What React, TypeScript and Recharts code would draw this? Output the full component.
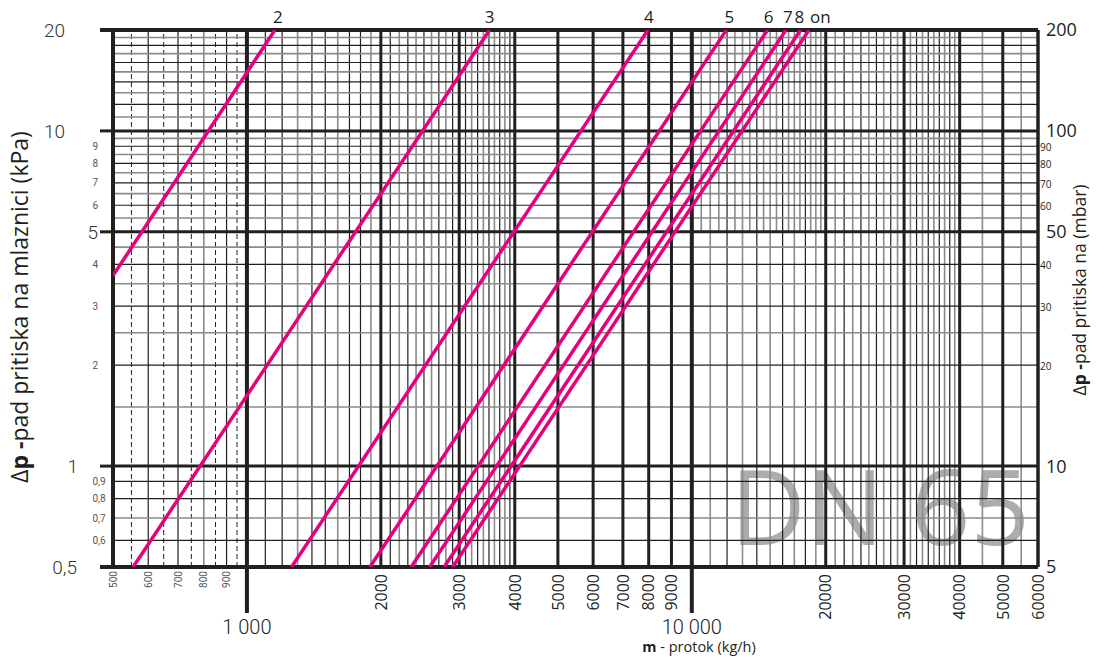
import React from 'react';
import { LineChart, Line, XAxis, YAxis, ReferenceLine, LabelList } from 'recharts';

// ---- data: nozzle curves (flow kg/h, pressure drop kPa) ----
const seriesNames = ['2', '3', '4', '5', '6', '7', '8', 'on'];
const lowFlow = [500, 555, 1260, 1890, 2340, 2575, 2775, 2900];
const lowDrop = [3.7, 0.5, 0.5, 0.5, 0.5, 0.5, 0.5, 0.5];
const highFlow = [1156, 3510, 7970, 11960, 14800, 16280, 17550, 18340];
const highDrop = [20, 20, 20, 20, 20, 20, 20, 20];

// ---- axis ticks ----
const xTicks = [500, 600, 700, 800, 900, 1000, 2000, 3000, 4000, 5000, 6000, 7000, 8000, 9000, 10000, 20000, 30000, 40000, 50000, 60000];
const xTickLabels = ['500', '600', '700', '800', '900', '1 000', '2000', '3000', '4000', '5000', '6000', '7000', '8000', '9000', '10 000', '20000', '30000', '40000', '50000', '60000'];
const yLeftTicks = [0.5, 0.6, 0.7, 0.8, 0.9, 1, 2, 3, 4, 5, 6, 7, 8, 9, 10, 20];
const yLeftLabels = ['0,5', '0,6', '0,7', '0,8', '0,9', '1', '2', '3', '4', '5', '6', '7', '8', '9', '10', '20'];
const yRightTicks = [0.5, 1, 2, 3, 4, 5, 6, 7, 8, 9, 10, 20];
const yRightLabels = ['5', '10', '20', '30', '40', '50', '60', '70', '80', '90', '100', '200'];

// ---- grid lines ----
const xDashed = [550, 650, 750, 850, 950];
const xMinorFull = [600, 700, 800, 900, 1100, 1200, 1300, 1400, 1500, 1600, 1700, 1800, 1900,
  2100, 2200, 2300, 2400, 2500, 2600, 2700, 2800, 2900,
  3100, 3200, 3300, 3400, 3500, 3600, 3700, 3800, 3900,
  11000, 12000, 13000, 14000, 15000, 16000, 17000, 18000, 19000,
  21000, 22000, 23000, 24000, 25000, 26000, 27000, 28000, 29000,
  31000, 32000, 33000, 34000, 35000, 36000, 37000, 38000, 39000, 45000, 55000];
const xMinorUpper = [10500, 11500, 12500, 13500, 14500, 15500, 16500, 17500, 18500, 19500];
const xGrey = [800, 1300, 1600, 1900, 2200, 2400, 2600, 2800, 3200, 3400, 3600, 3800,
  11000, 13000, 15000, 17000, 19000, 21000, 23000, 25000, 27000, 29000,
  31000, 33000, 35000, 37000, 39000, 45000, 55000];
const xMajor = [2000, 3000, 4000, 5000, 6000, 7000, 8000, 9000, 20000, 30000, 40000, 50000];
const xHeavy = [1000, 10000];
const xBorder = [500, 60000];
const yMinor = [0.6, 0.7, 0.8, 0.9, 1.5, 2, 2.5, 3, 3.5, 4, 4.5, 5.5, 6, 6.5, 7, 7.5, 8, 8.5, 9, 9.5,
  11, 12, 13, 14, 15, 16, 17, 18, 19];
const yGrey = [0.7, 1.5, 2.5, 3.5, 4.5, 5.5, 6.5, 7.5, 8.5, 9.5, 11, 13, 15, 17, 19];
const yMajor = [1, 5, 10];
const yBorder = [0.5, 20];

const INK = '#231f20';
const GREY = '#8b8b8b';
const PINK = '#e5007e';
const SANS = "'Open Sans', 'Noto Sans', sans-serif";
const LIGHT = "Roboto, 'Liberation Sans', Arial, sans-serif";

const labelDx: Record<string, number> = { '2': 3, '3': 0, '4': 1, '5': 3, '6': 1, '7': 2, '8': -1, on: 1 };

const XTick = (props: any) => {
  const { x, y, payload } = props;
  const v = payload.value;
  const label = xTickLabels[xTicks.indexOf(v)];
  if (v === 1000 || v === 10000) {
    return (
      <g>
        <line x1={x} x2={x} y1={y} y2={y + 46} stroke={INK} strokeWidth={4} />
        <text x={x} y={y + 67} textAnchor="middle" fontFamily={LIGHT} fontWeight={300} fontSize={20} fill={INK}>{label}</text>
      </g>
    );
  }
  const small = v < 1000;
  const fs = small ? 10 : 16;
  return (
    <text
      transform={`translate(${x + fs * 0.36},${y + (small ? 4 : 7)}) rotate(-90)`}
      textAnchor="end"
      fontFamily={small ? LIGHT : SANS}
      fontSize={fs}
      fill={small ? '#555' : INK}
    >
      {label}
    </text>
  );
};

const bigLeftEnd: Record<string, number> = { '20': 48, '10': 48, '5': 15, '1': 35, '0.5': 36 };

const LeftTick = (props: any) => {
  const { x, y, payload } = props;
  const v = payload.value;
  const label = yLeftLabels[yLeftTicks.indexOf(v)];
  const key = String(v);
  if (bigLeftEnd[key] !== undefined) {
    return (
      <g>
        <line x1={x - 13} x2={x} y1={y} y2={y} stroke={INK} strokeWidth={v === 0.5 || v === 20 ? 4 : 3} />
        <text x={x - bigLeftEnd[key]} y={y} dy="0.36em" textAnchor="end" fontFamily={LIGHT} fontWeight={300} fontSize={19} fill="#333">{label}</text>
      </g>
    );
  }
  return (
    <text x={x - 20.5} y={y} dy="0.36em" textAnchor="start" fontFamily={LIGHT} fontSize={10} fill="#555">{label}</text>
  );
};

const bigRight = ['5', '10', '50', '100', '200'];

const RightTick = (props: any) => {
  const { x, y, payload } = props;
  const v = payload.value;
  const label = yRightLabels[yRightTicks.indexOf(v)];
  const big = bigRight.includes(label);
  return (
    <text x={x + (big ? 8 : 2)} y={y + (big ? 0 : 1.5)} dy="0.36em" textAnchor="start" fontFamily={SANS} fontSize={big ? 18 : 10} fill={INK}>
      {label}
    </text>
  );
};

const makeLabel = (name: string) => (p: any) => {
  if (p.index !== 1) return null;
  const isOn = name === 'on';
  return (
    <text x={p.x + labelDx[name]} y={p.y - 7} textAnchor={isOn ? 'start' : 'middle'} fontFamily={SANS} fontSize={17} fill={INK}>
      {name}
    </text>
  );
};

export default function App() {
  const W = 1097;
  const H = 663;
  return (
    <div style={{ position: 'absolute', left: 0, top: 0, width: W, height: H }}>
      <svg width={W} height={H} style={{ position: 'absolute', left: 0, top: 0 }}>
        <text x={880} y={545} textAnchor="middle" fontFamily={SANS} fontWeight={400} fontSize={104} fill="#aaacaf">DN 65</text>
        <text transform="translate(28,307) rotate(-90)" textAnchor="middle" fontFamily={SANS} fontSize={23} fill={INK}>
          <tspan>Δ</tspan><tspan fontWeight="bold">p -</tspan><tspan>pad pritiska na mlaznici (kPa)</tspan>
        </text>
        <text transform="translate(1086,290) rotate(-90)" textAnchor="middle" fontFamily={SANS} fontSize={17.5} fill={INK}>
          <tspan>Δ</tspan><tspan fontWeight="bold">p -</tspan><tspan>pad pritiska na  (mbar)</tspan>
        </text>
        <text x={699} y={652} textAnchor="middle" fontFamily={SANS} fontSize={14.5} fill={INK}>
          <tspan fontWeight="bold">m</tspan><tspan> - protok (kg/h)</tspan>
        </text>
      </svg>
      <LineChart width={W} height={H} margin={{ top: 30, right: 0, bottom: 0, left: 0 }}>
        <XAxis
          dataKey="m"
          type="number"
          scale="log"
          domain={[500, 60000]}
          allowDataOverflow
          ticks={xTicks}
          interval={0}
          tick={<XTick />}
          axisLine={false}
          tickLine={false}
          tickSize={0}
          tickMargin={0}
          height={96}
        />
        <YAxis
          yAxisId="left"
          type="number"
          scale="log"
          domain={[0.5, 20]}
          allowDataOverflow
          ticks={yLeftTicks}
          interval={0}
          tick={<LeftTick />}
          axisLine={false}
          tickLine={false}
          tickSize={0}
          tickMargin={0}
          width={113}
        />
        <YAxis
          yAxisId="right"
          orientation="right"
          type="number"
          scale="log"
          domain={[0.5, 20]}
          allowDataOverflow
          ticks={yRightTicks}
          interval={0}
          tick={<RightTick />}
          axisLine={false}
          tickLine={false}
          tickSize={0}
          tickMargin={0}
          width={59}
        />

        {xDashed.map((v) => (
          <ReferenceLine key={`xd${v}`} yAxisId="left" x={v} stroke={INK} strokeWidth={1} strokeDasharray="5 3" />
        ))}
        {xMinorFull.map((v) => (
          <ReferenceLine key={`xm${v}`} yAxisId="left" x={v} stroke={xGrey.includes(v) ? GREY : INK} strokeWidth={xGrey.includes(v) ? 1.6 : 1.2} />
        ))}
        {xMinorUpper.map((v) => (
          <ReferenceLine key={`xu${v}`} yAxisId="left" segment={[{ x: v, y: 5 }, { x: v, y: 20 }]} stroke={GREY} strokeWidth={1.6} />
        ))}
        {yMinor.map((v) => (
          <ReferenceLine key={`ym${v}`} yAxisId="left" y={v} stroke={yGrey.includes(v) ? GREY : INK} strokeWidth={yGrey.includes(v) ? 1.6 : 1.2} />
        ))}
        {xMajor.map((v) => (
          <ReferenceLine key={`xM${v}`} yAxisId="left" x={v} stroke={INK} strokeWidth={3} />
        ))}
        {yMajor.map((v) => (
          <ReferenceLine key={`yM${v}`} yAxisId="left" y={v} stroke={INK} strokeWidth={3} />
        ))}
        {xHeavy.map((v) => (
          <ReferenceLine key={`xH${v}`} yAxisId="left" x={v} stroke={INK} strokeWidth={4} />
        ))}
        {xBorder.map((v) => (
          <ReferenceLine key={`xB${v}`} yAxisId="left" x={v} stroke={INK} strokeWidth={v === 500 ? 4 : 3.5} />
        ))}
        {yBorder.map((v) => (
          <ReferenceLine key={`yB${v}`} yAxisId="left" y={v} stroke={INK} strokeWidth={4} />
        ))}

        {seriesNames.map((name, i) => (
          <Line
            key={name}
            yAxisId="left"
            data={[
              { m: lowFlow[i], dp: lowDrop[i] },
              { m: highFlow[i], dp: highDrop[i] },
            ]}
            dataKey="dp"
            type="linear"
            stroke={PINK}
            strokeWidth={3.5}
            dot={false}
            activeDot={false}
            isAnimationActive={false}
          >
            <LabelList dataKey="dp" content={makeLabel(name)} />
          </Line>
        ))}
      </LineChart>
    </div>
  );
}
